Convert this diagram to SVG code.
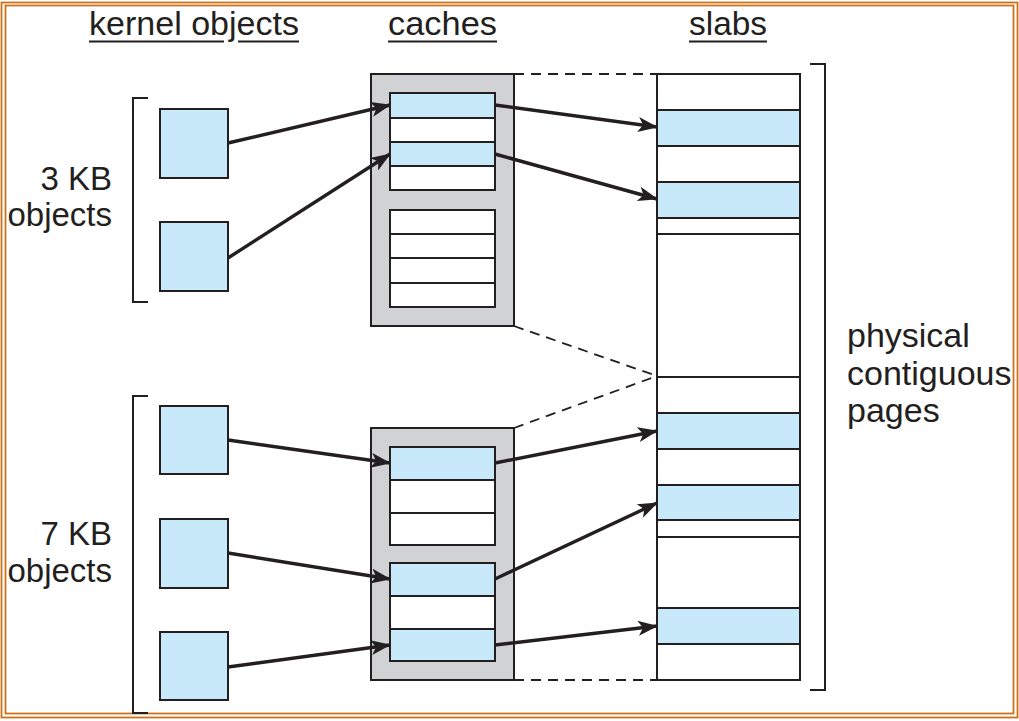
<svg xmlns="http://www.w3.org/2000/svg" width="1019" height="721" viewBox="0 0 1019 721">
<style>
.t{font-family:"Liberation Sans",Arial,sans-serif;font-size:33px;fill:#231f20}
.ul{stroke:#231f20;stroke-width:2}
.obj{fill:#c8e9f9;stroke:#231f20;stroke-width:2}
.cache{fill:#d1d2d4;stroke:#231f20;stroke-width:2}
.slot{fill:#ffffff;stroke:#231f20;stroke-width:2}
.bslot{fill:#c8e9f9;stroke:#231f20;stroke-width:2}
.br{fill:none;stroke:#231f20;stroke-width:2}
.dash{fill:none;stroke:#231f20;stroke-width:1.8;stroke-dasharray:10,7}
.arr{fill:none;stroke:#231f20;stroke-width:3.4;marker-end:url(#ah)}
</style>
<defs>
<marker id="ah" markerUnits="userSpaceOnUse" viewBox="0 0 20 15" markerWidth="20" markerHeight="15" refX="19" refY="7.5" orient="auto">
<path d="M0,0 L20,7.5 L0,15 L5,7.5 Z" fill="#231f20"/>
</marker>
</defs>
<rect x="0" y="0" width="1019" height="721" fill="#ffffff"/>
<rect x="1.5" y="2.5" width="1016" height="715" fill="none" stroke="#d07018" stroke-width="1.8"/>
<rect x="5.5" y="5.5" width="1008" height="708" fill="none" stroke="#d07018" stroke-width="1.8"/>

<g id="headings">
<text class="t" x="89" y="35" textLength="210" lengthAdjust="spacingAndGlyphs">kernel objects</text>
<line class="ul" x1="89" y1="41.5" x2="224" y2="41.5"/>
<line class="ul" x1="238" y1="41.5" x2="299" y2="41.5"/>
<text class="t" x="388" y="35" textLength="109" lengthAdjust="spacingAndGlyphs">caches</text>
<line class="ul" x1="388" y1="41.5" x2="497" y2="41.5"/>
<text class="t" x="689" y="35" textLength="78" lengthAdjust="spacingAndGlyphs">slabs</text>
<line class="ul" x1="689" y1="41.5" x2="767" y2="41.5"/>
</g>

<g id="label-3kb">
<text class="t" x="112" y="190" text-anchor="end">3 KB</text>
<text class="t" x="112" y="226" text-anchor="end">objects</text>
<path class="br" d="M148,98 H133 V302 H148"/>
</g>
<g id="label-7kb">
<text class="t" x="112" y="545" text-anchor="end">7 KB</text>
<text class="t" x="112" y="582" text-anchor="end">objects</text>
<path class="br" d="M148,396 H133 V713 H148"/>
</g>
<g id="label-pages">
<text class="t" x="847" y="347" style="font-size:34px">physical</text>
<text class="t" x="847" y="385" style="font-size:34px">contiguous</text>
<text class="t" x="847" y="422" style="font-size:34px">pages</text>
<path class="br" d="M810,64 H825 V690 H810"/>
</g>

<g id="obj-3kb-1"><rect class="obj" x="160" y="109" width="68" height="69"/></g>
<g id="obj-3kb-2"><rect class="obj" x="160" y="222" width="68" height="69"/></g>
<g id="obj-7kb-1"><rect class="obj" x="160" y="406" width="68" height="68"/></g>
<g id="obj-7kb-2"><rect class="obj" x="160" y="519" width="68" height="69"/></g>
<g id="obj-7kb-3"><rect class="obj" x="160" y="632" width="68" height="68"/></g>

<g id="cache-top">
<rect class="cache" x="371" y="74" width="143" height="252"/>
<rect class="bslot" x="390" y="93" width="105" height="25"/>
<rect class="slot" x="390" y="118" width="105" height="24"/>
<rect class="bslot" x="390" y="142" width="105" height="24"/>
<rect class="slot" x="390" y="166" width="105" height="24"/>
<rect class="slot" x="390" y="210" width="105" height="24"/>
<rect class="slot" x="390" y="234" width="105" height="24"/>
<rect class="slot" x="390" y="258" width="105" height="25"/>
<rect class="slot" x="390" y="283" width="105" height="24"/>
</g>

<g id="cache-bottom">
<rect class="cache" x="371" y="428" width="143" height="252"/>
<rect class="bslot" x="390" y="447" width="105" height="33"/>
<rect class="slot" x="390" y="480" width="105" height="33"/>
<rect class="slot" x="390" y="513" width="105" height="32"/>
<rect class="bslot" x="390" y="563" width="105" height="33"/>
<rect class="slot" x="390" y="596" width="105" height="33"/>
<rect class="bslot" x="390" y="629" width="105" height="32"/>
</g>

<g id="slabs">
<rect class="slot" x="657" y="74" width="143" height="606"/>
<rect class="bslot" x="657" y="110" width="143" height="36"/>
<rect class="bslot" x="657" y="182" width="143" height="36"/>
<line class="ul" x1="657" y1="234" x2="800" y2="234"/>
<line class="ul" x1="657" y1="377" x2="800" y2="377"/>
<rect class="bslot" x="657" y="413" width="143" height="36"/>
<rect class="bslot" x="657" y="485" width="143" height="35"/>
<line class="ul" x1="657" y1="537" x2="800" y2="537"/>
<rect class="bslot" x="657" y="608" width="143" height="36"/>
</g>

<g id="connectors">
<line class="dash" x1="514" y1="74" x2="657" y2="74"/>
<line class="dash" x1="514" y1="326" x2="657" y2="376"/>
<line class="dash" x1="514" y1="428" x2="657" y2="376"/>
<line class="dash" x1="514" y1="680" x2="657" y2="680"/>
<line class="arr" x1="228" y1="143" x2="390" y2="105"/>
<line class="arr" x1="228" y1="258" x2="390" y2="154"/>
<line class="arr" x1="495" y1="105" x2="657" y2="127"/>
<line class="arr" x1="495" y1="154" x2="657" y2="199"/>
<line class="arr" x1="228" y1="440" x2="390" y2="463"/>
<line class="arr" x1="228" y1="553" x2="390" y2="579"/>
<line class="arr" x1="228" y1="667" x2="390" y2="645"/>
<line class="arr" x1="495" y1="463" x2="657" y2="431"/>
<line class="arr" x1="495" y1="579" x2="657" y2="503"/>
<line class="arr" x1="495" y1="645" x2="657" y2="626"/>
</g>
</svg>
